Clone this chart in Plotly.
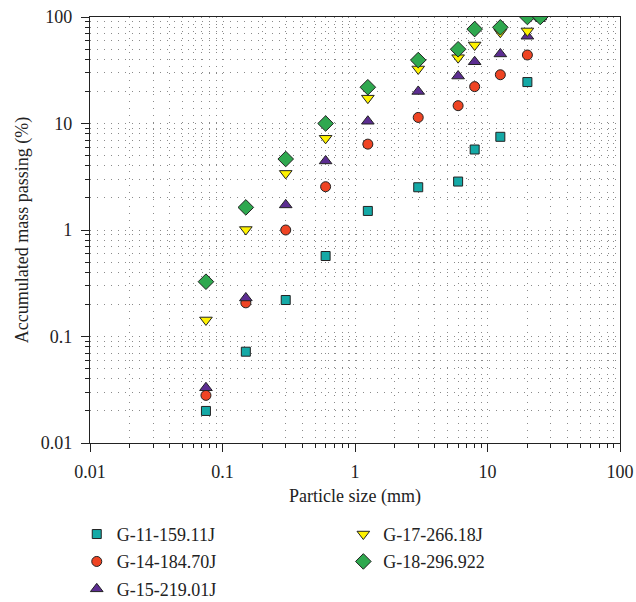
import plotly.graph_objects as go

# Particle sizes (mm)
sizes = [0.075, 0.15, 0.3, 0.6, 1.25, 3, 6, 8, 12.5, 20, 25]

# Accumulated mass passing (%)
g11 = [0.020, 0.072, 0.22, 0.57, 1.51, 2.52, 2.85, 5.7, 7.5, 24.5, 100]
g14 = [0.028, 0.207, 1.0, 2.55, 6.4, 11.4, 14.7, 22.2, 28.7, 44, 100]
g15 = [0.033, 0.23, 1.72, 4.45, 10.5, 20.0, 27.9, 38.0, 45, 66, 100]
g17 = [0.143, 1.01, 3.4, 7.26, 17.3, 32.5, 41.5, 54.6, 72, 74, 100]
g18 = [0.327, 1.63, 4.64, 10.0, 21.9, 39.4, 49.8, 77, 80, 100, 100]

names = ["G-11-159.11J", "G-14-184.70J", "G-15-219.01J", "G-17-266.18J", "G-18-296.922"]
series = [g11, g14, g15, g17, g18]
symbols = ["square", "circle", "triangle-up", "triangle-down", "diamond"]
colors = ["#14a9a6", "#ef4423", "#5c2d91", "#fff200", "#2fa84f"]
msizes = [9, 10, 11, 11, 12]
legends = ["legend", "legend", "legend", "legend2", "legend2"]

tick_vals = [0.01, 0.1, 1, 10, 100]
tick_text = ["0.01", "0.1", "1", "10", "100"]
minor_vals = [m * 10 ** e for e in range(-2, 2) for m in range(2, 10)]

FONT = "Liberation Serif"
FS = 18

fig = go.Figure()
for i, (nm, ys) in enumerate(zip(names, series)):
    fig.add_trace(go.Scatter(
        x=sizes, y=ys, mode="markers", name=nm,
        legend=legends[i], legendgroup=nm,
        marker=dict(symbol=symbols[i], color=colors[i], size=msizes[i],
                    line=dict(color="#222222", width=1)),
    ))

axis_common = dict(
    type="log", range=[-2, 2], automargin=False,
    tickmode="array", tickvals=tick_vals, ticktext=tick_text,
    showline=True, linecolor="#222222", linewidth=1.2, mirror=True,
    ticks="outside", ticklen=8, tickwidth=1, tickcolor="#222222",
    showgrid=True, gridcolor="#8a8a8a", gridwidth=1, griddash="1px,6px",
    zeroline=False,
    tickfont=dict(family=FONT, size=FS, color="#222222"),
    minor=dict(tickmode="array", tickvals=minor_vals, ticks="outside", ticklen=4,
               tickcolor="#222222", showgrid=True, gridcolor="#8a8a8a",
               gridwidth=1, griddash="1px,6px"),
)

fig.update_xaxes(**axis_common, ticklabelstandoff=4,
                 title=dict(text="Particle size (mm)", font=dict(family=FONT, size=FS, color="#222222"),
                            standoff=8))
fig.update_yaxes(**axis_common, ticklabelstandoff=5,
                 title=dict(text="Accumulated mass passing (%)", font=dict(family=FONT, size=FS, color="#222222"),
                            standoff=7))

leg_common = dict(
    orientation="v", xanchor="left", yanchor="top",
    font=dict(family=FONT, size=FS, color="#222222"),
    bgcolor="rgba(0,0,0,0)", tracegroupgap=1, itemsizing="trace",
)

fig.update_layout(
    width=636, height=602,
    margin=dict(l=90, r=16, t=17, b=159, autoexpand=False),
    paper_bgcolor="white", plot_bgcolor="white",
    font=dict(family=FONT, size=FS, color="#222222"),
    showlegend=True,
    legend=dict(x=-0.025, y=-0.171, **leg_common),
    legend2=dict(x=0.478, y=-0.171, **leg_common),
)

fig.write_html("out.html", config={"displayModeBar": False})

# remove default page margin so the figure sits at the window origin
with open("out.html", "r", encoding="utf-8") as f:
    html = f.read()
html = html.replace("<head>", "<head><style>html,body{margin:0;padding:0;overflow:hidden;}</style>", 1)
with open("out.html", "w", encoding="utf-8") as f:
    f.write(html)
